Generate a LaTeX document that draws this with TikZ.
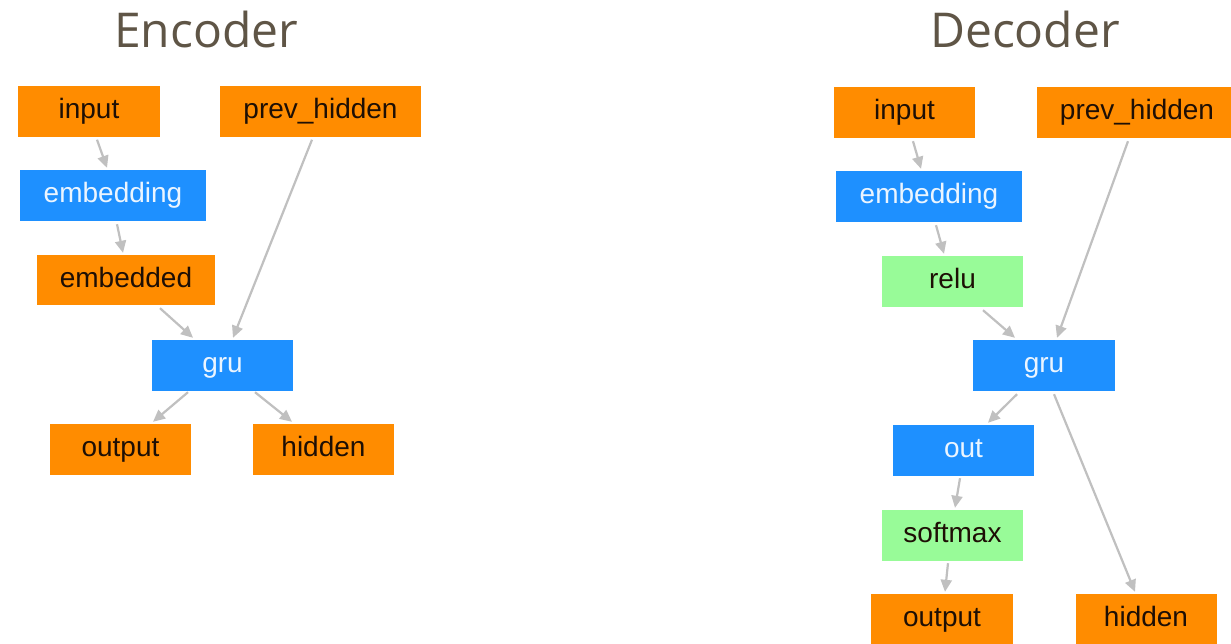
\documentclass[tikz,border=0pt]{standalone}
\usepackage{fontspec}
\setmainfont{Liberation Sans}
\newfontfamily\titlefont{Open Sans}
\usetikzlibrary{calc,arrows.meta}
\definecolor{borange}{RGB}{255,140,0}
\definecolor{bblue}{RGB}{30,144,255}
\definecolor{bgreen}{RGB}{152,251,152}
\definecolor{arrgray}{RGB}{192,192,192}
\definecolor{titlecol}{RGB}{95,85,70}
\definecolor{darktext}{RGB}{30,15,5}
\definecolor{lighttext}{RGB}{235,245,255}
\tikzset{
  box/.style={inner sep=0pt, minimum height=51pt, text height=20pt, text depth=6pt, font=\fontsize{28}{32}\selectfont},
  obox/.style={box, fill=borange, text=darktext},
  bbox/.style={box, fill=bblue, text=lighttext},
  gbox/.style={box, fill=bgreen, text=darktext},
  arr/.style={draw=arrgray, line width=2.2pt, -{Triangle[length=12pt,width=11pt]}},
  ttl/.style={anchor=base, text=titlecol, font=\titlefont\fontsize{48}{52}\selectfont}
}
\begin{document}
\begin{tikzpicture}[x=1pt,y=-1pt]
\clip (0,0) rectangle (1231,643);
\fill[white] (0,0) rectangle (1231,643);
% titles
\node[ttl] (tenc) at (206,47) {Encoder};
\node[ttl] (tdec) at (1025,47) {Decoder};
% encoder
\node[obox, minimum width=142pt] (ein) at (89,111) {input};
\node[obox, minimum width=201pt] (eprev) at (320.5,111) {prev\_hidden};
\node[bbox, minimum width=186pt] (eemb) at (113,195.5) {embedding};
\node[obox, minimum width=178pt, minimum height=50pt] (eembd) at (126,280) {embedded};
\node[bbox, minimum width=141pt] (egru) at (222.5,365) {gru};
\node[obox, minimum width=141pt] (eout) at (120.5,449.5) {output};
\node[obox, minimum width=141pt] (ehid) at (323.5,449.5) {hidden};
\draw[arr] ($(ein.south)+(8,3)$) -- ($(eemb.north)+(-6,-2)$);
\draw[arr] ($(eemb.south)+(4,3)$) -- ($(eembd.north)+(-3,-2)$);
\draw[arr] ($(eprev.south)+(-8.5,3)$) -- ($(egru.north)+(10.5,-1.5)$);
\draw[arr] ($(eembd.south)+(34,3)$) -- ($(egru.north)+(-29.5,-1.5)$);
\draw[arr] ($(egru.south)+(-34.5,1.5)$) -- ($(eout.north)+(32.5,-2)$);
\draw[arr] ($(egru.south)+(32.5,1.5)$) -- ($(ehid.north)+(-31.5,-2)$);
% decoder
\node[obox, minimum width=141pt] (din) at (904.5,112.5) {input};
\node[obox, minimum width=201pt] (dprev) at (1137,112.5) {prev\_hidden};
\node[bbox, minimum width=186pt] (demb) at (929,196.5) {embedding};
\node[gbox, minimum width=141pt] (drelu) at (952.5,281.5) {relu};
\node[bbox, minimum width=142pt] (dgru) at (1044,365.5) {gru};
\node[bbox, minimum width=141pt] (dout) at (963.5,450.5) {out};
\node[gbox, minimum width=141pt] (dsoft) at (952.5,535.5) {softmax};
\node[obox, minimum width=142pt] (doutp) at (942,619.5) {output};
\node[obox, minimum width=141pt] (dhid) at (1146,619.5) {hidden};
\draw[arr] ($(din.south)+(8.5,3)$) -- ($(demb.north)+(-8,-2)$);
\draw[arr] ($(demb.south)+(7,3)$) -- ($(drelu.north)+(-8.5,-2)$);
\draw[arr] ($(drelu.south)+(30.5,3)$) -- ($(dgru.north)+(-29,-2)$);
\draw[arr] ($(dprev.south)+(-9,3)$) -- ($(dgru.north)+(13,-2)$);
\draw[arr] ($(dgru.south)+(-27,3)$) -- ($(dout.north)+(24.5,-2)$);
\draw[arr] ($(dgru.south)+(10,3)$) -- ($(dhid.north)+(-11,-2)$);
\draw[arr] ($(dout.south)+(-3.5,2)$) -- ($(dsoft.north)+(2.5,-2)$);
\draw[arr] ($(dsoft.south)+(-4.5,2)$) -- ($(doutp.north)+(3,-2)$);
\end{tikzpicture}
\end{document}
